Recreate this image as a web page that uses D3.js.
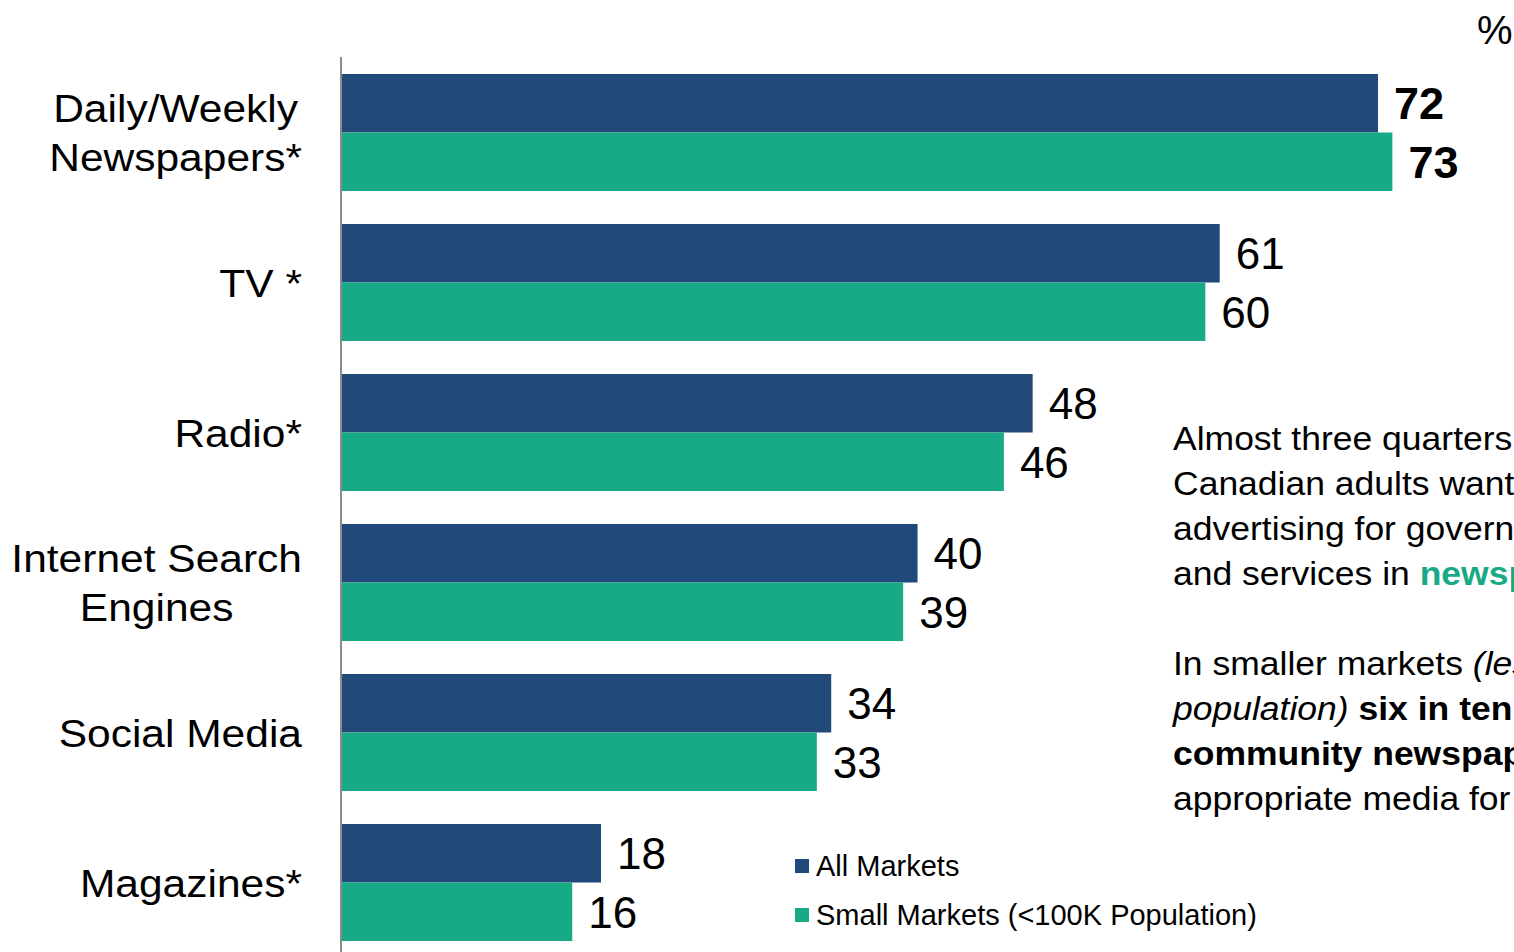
<!DOCTYPE html>
<meta charset="utf-8">
<script src="https://d3js.org/d3.v7.min.js"></script>
<style>
  body { margin: 0; background: #fff; overflow: hidden; }
  text { font-family: "Liberation Sans", Arial, sans-serif; }
</style>
<div id="chart"></div>
<script>

// data
var categories = [["Daily/Weekly", "Newspapers*"], ["TV *"], ["Radio*"], ["Internet Search", "Engines"], ["Social Media"], ["Magazines*"]];
var seriesNames = ["All Markets", "Small Markets (<100K Population)"];
var allMarkets = [72, 61, 48, 40, 34, 18];
var smallMarkets = [73, 60, 46, 39, 33, 16];
var colors = ["#214a7b", "#18aa86"];

var width = 1514, height = 952;
var stretch = 1.09; // text in the original looks a bit wide

var svg = d3.select("#chart")
  .append("svg")
    .attr("width", width)
    .attr("height", height);

var keys = categories.map(function(d) { return d.join(" "); });

var x = d3.scaleLinear()
  .domain([0, 72])
  .range([342, 1378]);

var y = d3.scaleBand()
  .domain(keys)
  .range([74, 941])
  .paddingInner(0.22)
  .paddingOuter(0);

var ySub = d3.scaleBand()
  .domain([0, 1])
  .range([0, y.bandwidth()]);

// vertical axis line
svg.append("line")
  .attr("x1", 341).attr("x2", 341)
  .attr("y1", 57).attr("y2", height)
  .attr("stroke", "#8c8c8c")
  .attr("stroke-width", 2);

var groups = svg.selectAll(".grp")
  .data(keys)
  .enter()
  .append("g")
    .attr("class", "grp")
    .attr("transform", function(d) { return "translate(0," + y(d) + ")"; });

[allMarkets, smallMarkets].forEach(function(vals, s) {
  groups.append("rect")
    .attr("x", x(0))
    .attr("y", ySub(s))
    .attr("width", function(d, i) { return x(vals[i]) - x(0); })
    .attr("height", ySub.bandwidth())
    .attr("fill", colors[s]);

  groups.append("text")
    .attr("x", function(d, i) { return x(vals[i]) + 16; })
    .attr("y", ySub(s) + ySub.bandwidth() / 2)
    .attr("dy", "0.36em")
    .attr("font-size", function(d, i) { return i === 0 ? "45px" : "44px"; })
    .attr("font-weight", function(d, i) { return i === 0 ? "bold" : "normal"; })
    .text(function(d, i) { return vals[i]; });
});

// category labels, lines centred on each other, block right edge at 302
groups.each(function(d, i) {
  var lines = categories[i];
  var g = d3.select(this).append("g");
  var t = g.append("text")
    .attr("text-anchor", "middle")
    .attr("font-size", "39px")
    .attr("fill", "#000");
  var maxW = 0;
  lines.forEach(function(l, j) {
    var ts = t.append("tspan")
      .attr("x", 0)
      .attr("y", y.bandwidth() / 2 + (j - (lines.length - 1) / 2) * 49)
      .attr("dy", "0.36em")
      .text(l);
    maxW = Math.max(maxW, ts.node().getComputedTextLength());
  });
  g.attr("transform", "translate(" + (302 - maxW * stretch / 2) + ",0) scale(" + stretch + ",1)");
});

// percent sign
svg.append("text")
  .attr("x", 1477)
  .attr("y", 44)
  .attr("font-size", "40px")
  .text("%");

// legend
var legend = svg.selectAll(".leg")
  .data(seriesNames)
  .enter()
  .append("g")
    .attr("transform", function(d, i) { return "translate(795," + (859 + i * 49) + ")"; });
legend.append("rect")
  .attr("width", 14).attr("height", 14)
  .attr("fill", function(d, i) { return colors[i]; });
legend.append("text")
  .attr("x", 21)
  .attr("y", 7)
  .attr("dy", "0.36em")
  .attr("font-size", "29px")
  .text(function(d) { return d; });

// annotation text (runs off the right edge as in the original)
var note = svg.append("g")
  .attr("transform", "translate(1173,0) scale(1.076,1)")
  .append("text")
    .attr("font-size", "33px")
    .attr("fill", "#000");
var noteLines = [
  [["Almost three quarters of", ""]],
  [["Canadian adults want to see", ""]],
  [["advertising for government programs", ""]],
  [["and services in ", ""], ["newspapers.", "green"]],
  null,
  [["In smaller markets ", ""], ["(less than 100K", "italic"]],
  [["population)", "italic"], [" six in ten say", "bold"]],
  [["community newspapers are the most", "bold"]],
  [["appropriate media for this.", ""]]
];
noteLines.forEach(function(line, i) {
  if (!line) return;
  line.forEach(function(seg, j) {
    var ts = note.append("tspan").text(seg[0]);
    if (j === 0) ts.attr("x", 0).attr("y", 450 + i * 45);
    if (seg[1] === "green") ts.attr("fill", colors[1]).attr("font-weight", "bold");
    if (seg[1] === "italic") ts.attr("font-style", "italic");
    if (seg[1] === "bold") ts.attr("font-weight", "bold");
  });
});

</script>
